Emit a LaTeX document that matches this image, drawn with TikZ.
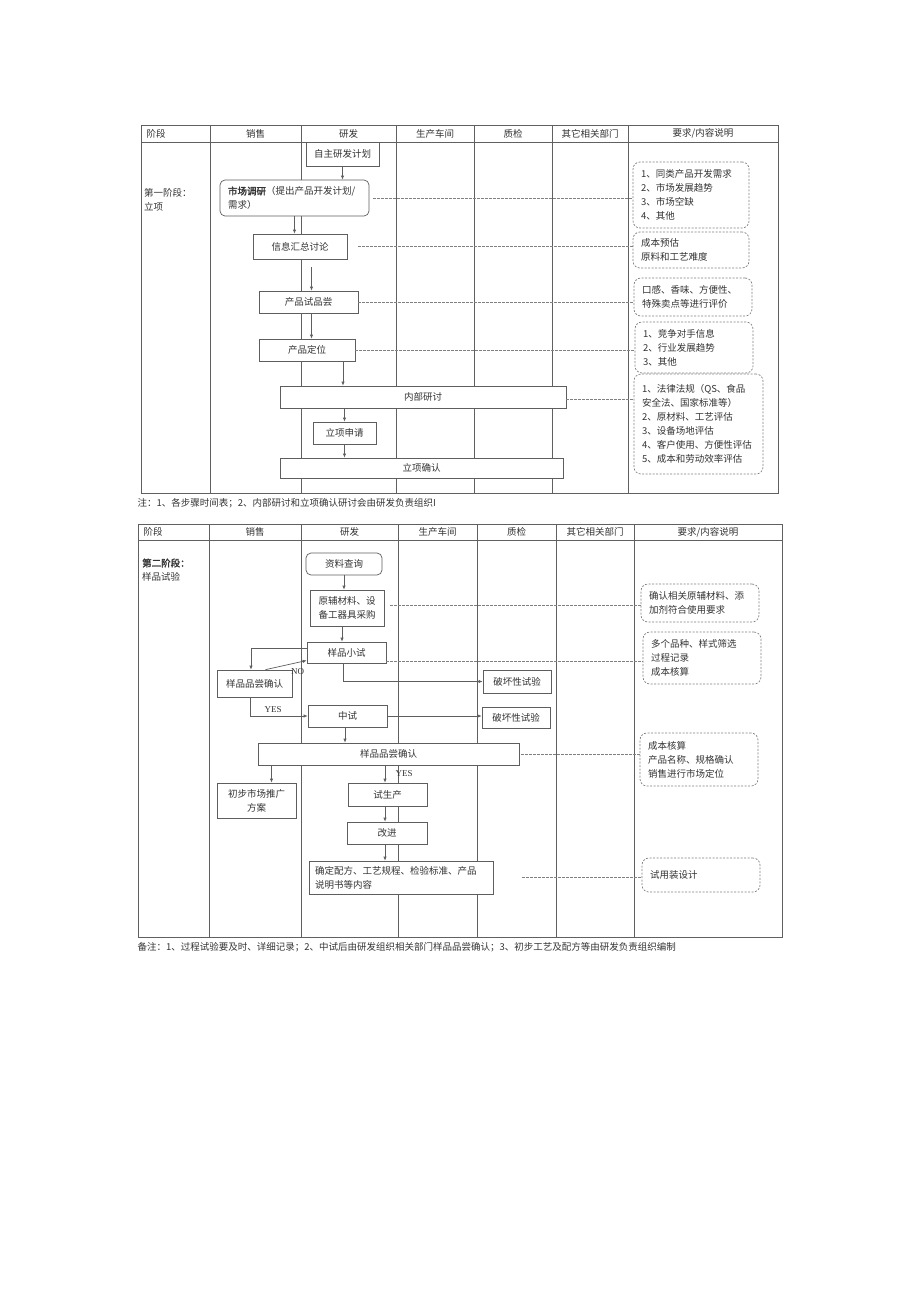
\documentclass[tikz,border=0pt]{standalone}
\usepackage{fontspec}
\setmainfont{Noto Sans CJK SC}[AutoFakeBold=2]
\newfontfamily\latinserif{Liberation Serif}
\usepackage[HTML]{xcolor}
\usepackage{tikz}
\usetikzlibrary{positioning, arrows, arrows.meta}

\definecolor{lanegray}{HTML}{606060}
\definecolor{boxgray}{HTML}{5E5E5E}
\definecolor{dashgray}{HTML}{808080}
\definecolor{txtgray}{HTML}{333333}

\begin{document}
\begin{tikzpicture}[x=1pt, y=-1pt,
  font=\fontsize{9.5}{14}\selectfont, text=txtgray,
  >={Latex[length=4pt,width=3.5pt]},
  lane/.style={draw=lanegray, line width=0.8pt},
  box/.style={draw=boxgray, fill=white, line width=0.7pt, inner sep=2pt, align=center},
  rbox/.style={box, rounded corners=5pt},
  remark/.style={draw=dashgray, fill=white, line width=0.7pt, dash pattern=on 2pt off 1.5pt, rounded corners=7pt, align=left, inner xsep=8pt, inner ysep=3pt},
  dline/.style={draw=dashgray, line width=0.6pt, dash pattern=on 2.5pt off 1.5pt},
  flow/.style={->, draw=boxgray, line width=0.7pt},
  yesno/.style={font=\latinserif\fontsize{9}{10}\selectfont}]
\useasboundingbox (0,0) rectangle (920,1301);

% first stage table
\draw[lane] (141,125) rectangle (778,493);
\draw[lane] (141,142) -- (778,142);
\draw[lane] (210,125) -- (210,493) (301,125) -- (301,493) (396,125) -- (396,493)
  (474,125) -- (474,493) (552,125) -- (552,493) (628,125) -- (628,493);

\node[anchor=west] (T1h0) at (143,133.5) {阶段};
\node (T1h1) at (255.5,133.5) {销售};
\node (T1h2) at (348.5,133.5) {研发};
\node (T1h3) at (435,133.5) {生产车间};
\node (T1h4) at (513,133.5) {质检};
\node (T1h5) at (590,133.5) {其它相关部门};
\node (T1h6) at (703,133.5) {要求/内容说明};

\node[anchor=west, align=left, inner sep=2pt] (S1) at (142,200) {第一阶段：\\立项};

\node[box, minimum width=73pt, minimum height=24pt] (A1) at (342.5,154) {自主研发计划};
\node[rbox, align=left, text width=133pt, inner xsep=8pt, minimum height=36pt] (A2) at (294.5,198)
  {\textbf{市场调研}（提出产品开发计划/\\需求）};
\node[box, minimum width=94pt, minimum height=25pt] (A3) at (300,246.5) {信息汇总讨论};
\node[box, minimum width=99pt, minimum height=22pt] (A4) at (308.5,302) {产品试品尝};
\node[box, minimum width=96pt, minimum height=22pt] (A5) at (307,350) {产品定位};
\node[box, minimum width=286pt, minimum height=22pt] (A6) at (423,397) {内部研讨};
\node[box, minimum width=63pt, minimum height=22pt] (A7) at (344.5,433) {立项申请};
\node[box, minimum width=283pt, minimum height=20pt] (A8) at (421.5,468) {立项确认};

\node[remark, text width=100pt, minimum height=66pt] (R1) at (691,195)
  {1、同类产品开发需求\\2、市场发展趋势\\3、市场空缺\\4、其他};
\node[remark, text width=100pt, minimum height=36pt] (R2) at (691,250)
  {成本预估\\原料和工艺难度};
\node[remark, text width=102pt, minimum height=38pt] (R3) at (693,297)
  {口感、香味、方便性、\\特殊卖点等进行评价};
\node[remark, text width=102pt, minimum height=51pt] (R4) at (694,347.5)
  {1、竞争对手信息\\2、行业发展趋势\\3、其他};
\node[remark, text width=113pt, minimum height=100pt] (R5) at (698.5,424)
  {1、法律法规（QS、食品\\安全法、国家标准等）\\2、原材料、工艺评估\\3、设备场地评估\\4、客户使用、方便性评估\\5、成本和劳动效率评估};

\draw[flow] (A1.south) -- (A1.south |- A2.north);
\draw[flow] (A2.south) -- (A2.south |- A3.north);
\draw[flow, shorten <=8pt] ([xshift=3pt]A4.north |- A3.south) -- ([xshift=3pt]A4.north);
\draw[flow] ([xshift=3pt]A4.south) -- ([xshift=3pt]A4.south |- A5.north);
\draw[flow] ([xshift=36pt]A5.south) -- ([xshift=36pt]A5.south |- A6.north);
\draw[flow] (A7.north |- A6.south) -- (A7.north);
\draw[flow] (A7.south) -- (A7.south |- A8.north);

\draw[dline, shorten <=4pt] (A2.east) -- (A2.east -| R1.west);
\draw[dline, shorten <=11pt] (A3.east) -- (A3.east -| R2.west);
\draw[dline] (A4.east) -- (A4.east -| R3.west);
\draw[dline] (A5.east) -- (A5.east -| R4.west);
\draw[dline] ([yshift=-2pt]A6.east) -- ([yshift=-2pt]A6.east -| R5.west);

\node[anchor=west] (N1) at (134,503) {注：1、各步骤时间表；2、内部研讨和立项确认研讨会由研发负责组织I};

% second stage table
\draw[lane] (138,524) rectangle (782,937);
\draw[lane] (138,540) -- (782,540);
\draw[lane] (209,524) -- (209,937) (301,524) -- (301,937) (398,524) -- (398,937)
  (477,524) -- (477,937) (556,524) -- (556,937) (634,524) -- (634,937);

\node[anchor=west] (T2h0) at (140,532) {阶段};
\node (T2h1) at (255,532) {销售};
\node (T2h2) at (349.5,532) {研发};
\node (T2h3) at (437.5,532) {生产车间};
\node (T2h4) at (516.5,532) {质检};
\node (T2h5) at (595,532) {其它相关部门};
\node (T2h6) at (708,532) {要求/内容说明};

\node[anchor=west, align=left, inner sep=2pt] (S2) at (140,570) {\textbf{第二阶段：}\\样品试验};

\node[rbox, minimum width=76pt, minimum height=22pt] (B1) at (344,564) {资料查询};
\node[box, minimum width=74pt, minimum height=36pt] (B2) at (347,608) {原辅材料、设\\备工器具采购};
\node[box, minimum width=79pt, minimum height=21pt] (B3) at (346.5,652.5) {样品小试};
\node[box, minimum width=75pt, minimum height=27pt] (B4) at (254.5,683.5) {样品品尝确认};
\node[box, minimum width=68pt, minimum height=23pt] (B5) at (517,681.5) {破坏性试验};
\node[box, minimum width=79pt, minimum height=22pt] (B6) at (347.5,716) {中试};
\node[box, minimum width=68pt, minimum height=21pt] (B7) at (516,717.5) {破坏性试验};
\node[box, minimum width=261pt, minimum height=22pt] (B8) at (388.5,754) {样品品尝确认};
\node[box, minimum width=79pt, minimum height=35pt] (B9) at (256.5,800.5) {初步市场推广\\方案};
\node[box, minimum width=79pt, minimum height=23pt] (B10) at (387.5,794.5) {试生产};
\node[box, minimum width=80pt, minimum height=22pt] (B11) at (387,833) {改进};
\node[box, align=left, text width=172pt, inner xsep=6pt, minimum height=33pt] (B12) at (401,877.5)
  {确定配方、工艺规程、检验标准、产品\\说明书等内容};

\node[remark, text width=102pt, minimum height=38pt] (R6) at (700,603)
  {确认相关原辅材料、添\\加剂符合使用要求};
\node[remark, text width=102pt, minimum height=52pt] (R7) at (702,658)
  {多个品种、样式筛选\\过程记录\\成本核算};
\node[remark, text width=102pt, minimum height=53pt] (R8) at (699,759.5)
  {成本核算\\产品名称、规格确认\\销售进行市场定位};
\node[remark, text width=102pt, minimum height=34pt] (R9) at (701,875)
  {试用装设计};

\draw[flow] (B1.south) -- (B1.south |- B2.north);
\draw[flow] ([xshift=-5pt]B2.south) -- ([xshift=-5pt]B2.south |- B3.north);
\draw[flow] ([xshift=-3pt]B3.south) |- (B5.west);
\draw[flow] ([yshift=4pt]B3.west) -| ([xshift=-3.5pt]B4.north);
\draw[flow] ([xshift=11pt]B4.north) -- ([yshift=-8pt]B3.west) node[pos=0.78, below=2pt, yesno] {NO};
\draw[flow] ([xshift=-4.5pt]B4.south) |- (B6.west) node[pos=0.7, above, yesno] {YES};
\draw[flow] (B6.east) -- (B6.east -| B7.west);
\draw[flow] ([xshift=-2.5pt]B6.south) -- ([xshift=-2.5pt]B6.south |- B8.north);
\draw[flow] ([xshift=15pt]B9.north |- B8.south) -- ([xshift=15pt]B9.north);
\draw[flow] ([xshift=-2.5pt]B10.north |- B8.south) -- ([xshift=-2.5pt]B10.north) node[midway, right=7pt, yesno] {YES};
\draw[flow] ([xshift=-2.5pt]B10.south) -- ([xshift=-2.5pt]B10.south |- B11.north);
\draw[flow] ([xshift=-2pt]B11.south) -- ([xshift=-2pt]B11.south |- B12.north);

\draw[dline, shorten <=6pt] ([yshift=3pt]B2.east) -- ([yshift=3pt]B2.east -| R6.west);
\draw[dline] ([yshift=-9pt]B3.east) -- ([yshift=-9pt]B3.east -| R7.west);
\draw[dline, shorten <=2pt] (B8.east) -- (B8.east -| R8.west);
\draw[dline, shorten <=29pt] (B12.east) -- (B12.east -| R9.west);

\node[anchor=west] (N2) at (134,947) {备注：1、过程试验要及时、详细记录；2、中试后由研发组织相关部门样品品尝确认；3、初步工艺及配方等由研发负责组织编制};
\end{tikzpicture}
\end{document}
